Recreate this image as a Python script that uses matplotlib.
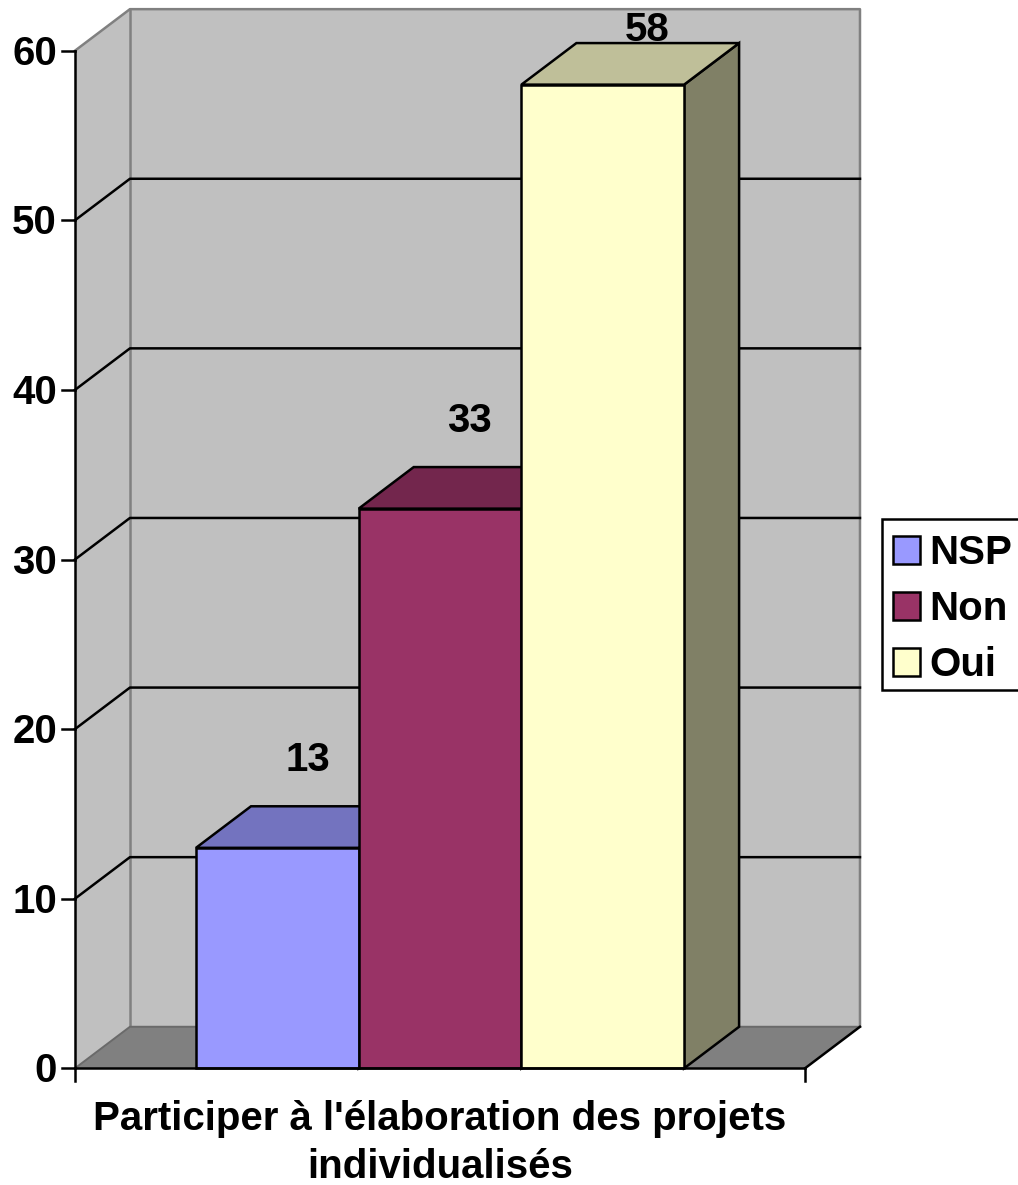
import matplotlib
matplotlib.use("Agg")
import matplotlib.pyplot as plt
from matplotlib.patches import Patch, Rectangle

plt.rcParams['font.family'] = ['Liberation Sans', 'DejaVu Sans']

categories = ["NSP", "Non", "Oui"]
values = [13, 33, 58]
bar_colors = ["#9999FF", "#993366", "#FFFFCC"]
y_ticks = [0, 10, 20, 30, 40, 50, 60]
axis_title = "Participer à l'élaboration des projets\nindividualisés"

# axis extents and 3d projection offset, in data units
x_left, x_right = -0.744, 3.743
y_top = 60
depth_x, depth_y = 0.338, 2.45
# value label shift from the front top-left corner of each bar
label_dx = [0.69, 0.68, 0.77]
label_dy = [4.55, 4.5, 2.6]
text_drop = 0.83

GRAY = "#C0C0C0"
FLOOR = "#808080"
FS = 29
LW = 1.8


def shade(color, k):
    rgb = matplotlib.colors.to_rgb(color)
    return tuple(c * k for c in rgb)


fig = plt.figure(figsize=(10.18, 11.85), dpi=100)
ax = fig.add_axes([0, 0, 1, 1])
ax.set_xlim(-196 / 162.7, (1018 - 196) / 162.7)
ax.set_ylim(-6.88, 62.99)
ax.axis("off")

xb0, xb1 = x_left + depth_x, x_right + depth_x
yb_top = y_top + depth_y

# walls and floor
ax.fill([x_left, xb0, xb0, x_left], [0, depth_y, yb_top, y_top], color=GRAY, lw=0, zorder=1)
ax.fill([xb0, xb1, xb1, xb0], [depth_y, depth_y, yb_top, yb_top], color=GRAY, lw=0, zorder=1)
ax.fill([x_left, x_right, xb1, xb0], [0, 0, depth_y, depth_y], color=FLOOR, lw=0, zorder=1)

# wall outline
ax.plot([x_left, xb0, xb1, xb1], [y_top, yb_top, yb_top, depth_y], color=FLOOR, lw=LW, zorder=2)
ax.plot([xb0, xb0], [depth_y, yb_top], color=FLOOR, lw=LW, zorder=2)
ax.plot([x_left, xb0, xb1], [0, depth_y, depth_y], color="#6A6A6A", lw=LW - 0.4, zorder=2)

# gridlines
for t in y_ticks[1:-1]:
    ax.plot([x_left, xb0, xb1], [t, t + depth_y, t + depth_y], color="black", lw=LW, zorder=3)

# bars, left to right so each one covers the side of the previous
for i, v in enumerate(values):
    c = bar_colors[i]
    z = 4 + i
    ax.fill([i + 1, i + 1 + depth_x, i + 1 + depth_x, i + 1], [0, depth_y, v + depth_y, v],
            facecolor=shade(c, 0.5), edgecolor="black", lw=LW, zorder=z)
    ax.fill([i, i + depth_x, i + 1 + depth_x, i + 1], [v, v + depth_y, v + depth_y, v],
            facecolor=shade(c, 0.75), edgecolor="black", lw=LW, zorder=z)
    ax.bar(i, v, width=1, align="edge", color=c, edgecolor="black", lw=LW, zorder=z)
    ax.text(i + label_dx[i], v + label_dy[i], str(v), ha="center", va="baseline",
            fontsize=FS, fontweight="bold", zorder=10)

# front axes
ax.plot([x_right, xb1], [0, depth_y], color="black", lw=LW, zorder=3)
ax.plot([x_left, x_left], [-0.75, y_top], color="black", lw=LW, zorder=8)
ax.plot([x_left, x_right], [0, 0], color="black", lw=LW, zorder=8)
ax.plot([x_right, x_right], [-0.75, 0], color="black", lw=LW, zorder=8)
for t in y_ticks:
    ax.plot([x_left - 0.08, x_left], [t, t], color="black", lw=LW, zorder=8)
    ax.text(x_left - 0.111, t - text_drop, str(t), ha="right", va="baseline",
            fontsize=FS, fontweight="bold")

ax.text(1.5, -1.84, axis_title, ha="center", va="top", fontsize=FS, fontweight="bold",
        linespacing=1.36)

# legend box is drawn on its own so the entries can sit lower inside it
ax.add_patch(Rectangle((882 / 1018, 1 - 690 / 1185), 0.2, 171 / 1185, transform=ax.transAxes,
                       facecolor="white", edgecolor="black", lw=LW, zorder=11))
handles = [Patch(facecolor=c, edgecolor="black", lw=LW) for c in bar_colors]
leg = ax.legend(handles, categories, loc="upper left", bbox_to_anchor=(883 / 1018, 1 - 524 / 1185),
                prop={"size": FS, "weight": "bold"}, frameon=False,
                handlelength=0.67, handleheight=0.67, handletextpad=0.22, labelspacing=0.45,
                borderpad=0.25, borderaxespad=0)
leg.set_zorder(12)

fig.savefig("out.png", dpi=100)
